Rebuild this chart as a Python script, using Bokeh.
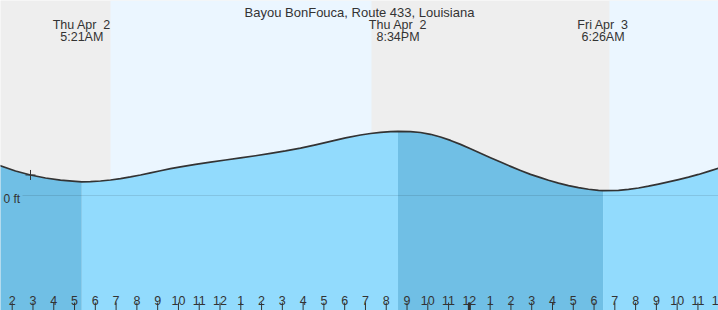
from bokeh.plotting import figure
from bokeh.models import Range1d
from bokeh.core.properties import value
from bokeh.embed import file_html
from bokeh.resources import INLINE

# ---- data (hours since midnight Thu Apr 2, tide height in ft) ----
title_text = "Bayou BonFouca, Route 433, Louisiana"
times_h = [1.40, 2.159, 2.881, 3.603, 4.324, 5.046, 5.35, 5.768, 6.249, 6.731,
           7.212, 7.693, 8.174, 8.656, 9.137, 9.618, 10.099, 10.821, 11.543,
           12.265, 12.987, 13.708, 14.430, 15.152, 15.874, 16.596, 17.318,
           18.040, 18.761, 19.243, 19.724, 20.205, 20.567, 21.168, 21.649,
           22.130, 22.611, 23.093, 23.574, 24.055, 24.536, 25.017, 25.499,
           25.980, 26.461, 26.942, 27.424, 27.809, 28.290, 28.771, 29.252,
           29.733, 30.214, 30.433, 31.177, 31.658, 32.140, 32.621, 33.102,
           33.583, 34.065, 34.546, 35.027, 35.508, 36.0]
heights_ft = [0.500, 0.408, 0.342, 0.292, 0.257, 0.235, 0.228, 0.232, 0.242, 0.258,
              0.282, 0.310, 0.342, 0.378, 0.413, 0.447, 0.478, 0.520, 0.557,
              0.592, 0.627, 0.663, 0.702, 0.743, 0.790, 0.845, 0.903,
              0.960, 1.008, 1.033, 1.053, 1.065, 1.070, 1.065, 1.050,
              1.020, 0.975, 0.918, 0.852, 0.780, 0.705, 0.630, 0.557,
              0.485, 0.417, 0.352, 0.297, 0.254, 0.206, 0.164, 0.130,
              0.104, 0.086, 0.080, 0.087, 0.102, 0.125, 0.155, 0.190,
              0.226, 0.265, 0.306, 0.351, 0.402, 0.457]
extreme_times = [5.35, 20.567, 30.433]
extreme_days = ["Thu Apr\u00a0\u00a02", "Thu Apr\u00a0\u00a02", "Fri Apr\u00a0\u00a03"]
extreme_clock = ["5:21AM", "8:34PM", "6:26AM"]
day_start = [6.73, 30.74]
day_end = [19.29, 37.0]
now_time = [2.881]
now_height = [0.342]
hour_ticks = list(range(2, 37))
hour_labels = ["2", "3", "4", "5", "6", "7", "8", "9", "10", "11", "12",
               "1", "2", "3", "4", "5", "6", "7", "8", "9", "10", "11", "12",
               "1", "2", "3", "4", "5", "6", "7", "8", "9", "10", "11", "12"]
midnight = [24]

X0, X1 = 1.437, 35.989
Y0, Y1 = -1.9167, 3.25
FONT = value("Liberation Sans")
TXT = "#333333"

p = figure(width=718, height=310, x_range=Range1d(X0, X1), y_range=Range1d(Y0, Y1),
           output_backend="svg", toolbar_location=None, min_border=0,
           x_axis_location=None, y_axis_location=None,
           background_fill_color="#eeeeee", border_fill_color="#eeeeee")
p.extra_y_ranges = {"px": Range1d(310, 0)}
p.extra_x_ranges = {"px": Range1d(0, 718)}
p.grid.visible = False
p.outline_line_color = None

# day bands
p.quad(left=day_start, right=day_end, bottom=Y0, top=Y1,
       fill_color="#ebf6ff", line_color=None)

# water fill, split at tide extremes
bounds = [times_h[0]] + extreme_times + [times_h[-1]]
for i in range(len(bounds) - 1):
    a, b = bounds[i], bounds[i + 1]
    xs = [t for t in times_h if a - 1e-9 <= t <= b + 1e-9]
    ys = [h for t, h in zip(times_h, heights_ft) if a - 1e-9 <= t <= b + 1e-9]
    falling = ys[-1] < ys[0]
    p.varea(x=xs, y1=[Y0] * len(xs), y2=ys,
            fill_color="#70bfe5" if falling else "#92dbfd")

# zero line
p.segment(x0=[22], y0=[195], x1=[718], y1=[195], x_range_name="px",
          y_range_name="px", line_color="#000000", line_alpha=0.1, line_width=1)
p.text(x=[3], y=[198.5], text=["0 ft"], x_range_name="px", y_range_name="px",
       text_font=FONT, text_font_size="12px", text_color=TXT,
       text_baseline="alphabetic", text_align="left")

# tide curve
p.line(times_h, heights_ft, line_color="#333333", line_width=1.7,
       line_join="round")
p.scatter(now_time, now_height, marker="cross", size=10, line_color="#333333",
          line_width=1)

# title and extreme labels
p.text(x=[359], y=[11.5], text=[title_text], x_range_name="px", y_range_name="px",
       text_font=FONT, text_font_size="13px", text_color=TXT,
       text_align="center", text_baseline="alphabetic")
p.text(x=extreme_times, y=[24] * 3, text=extreme_days, y_range_name="px",
       text_font=FONT, text_font_size="12.5px", text_color=TXT,
       text_align="center", text_baseline="alphabetic")
p.text(x=extreme_times, y=[36] * 3, text=extreme_clock, y_range_name="px",
       text_font=FONT, text_font_size="12.5px", text_color=TXT,
       text_align="center", text_baseline="alphabetic")

# hour ticks and labels
p.segment(x0=hour_ticks, y0=[302] * len(hour_ticks), x1=hour_ticks,
          y1=[310] * len(hour_ticks), y_range_name="px",
          line_color="#333333", line_width=1)
p.segment(x0=midnight, y0=[302], x1=midnight, y1=[310], y_range_name="px",
          line_color="#333333", line_width=3)
p.text(x=hour_ticks, y=[300] * len(hour_ticks), text=hour_labels, y_range_name="px",
       text_font=FONT, text_font_size="12.5px", text_color=TXT,
       text_align="center", text_baseline="alphabetic")

open("out.html", "w").write(file_html(p, INLINE))
